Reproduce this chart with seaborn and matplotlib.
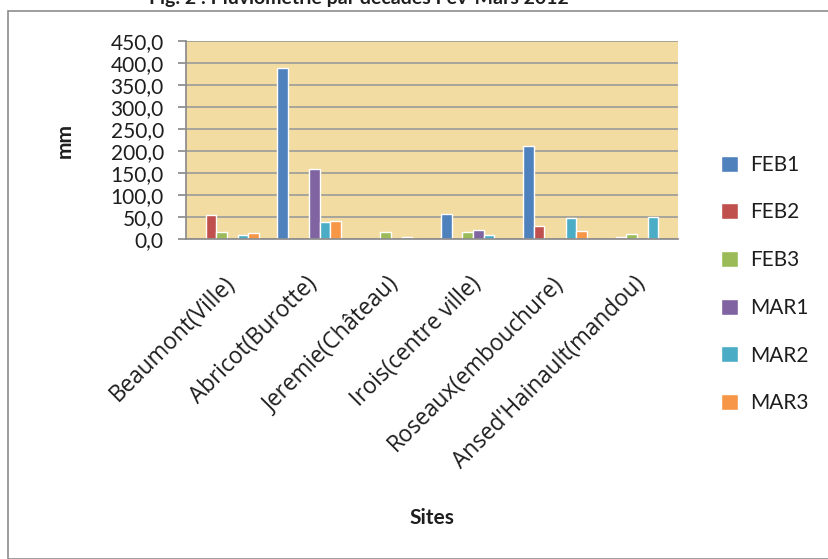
import matplotlib
matplotlib.use("Agg")
import matplotlib.pyplot as plt
import matplotlib.transforms as mtransforms
import seaborn as sns
import pandas as pd
from matplotlib.patches import Rectangle
from matplotlib.ticker import FuncFormatter

sites = ["Beaumont(Ville)", "Abricot(Burotte)", "Jeremie(Château)",
         "Irois(centre ville)", "Roseaux(embouchure)", "Ansed'Hainault(mandou)"]
series = ["FEB1", "FEB2", "FEB3", "MAR1", "MAR2", "MAR3"]
feb1 = [0, 388, 0, 56, 211, 0]
feb2 = [54, 0, 0, 0, 30, 4]
feb3 = [16, 0, 16, 16, 0, 12]
mar1 = [0, 160, 0, 21, 0, 0]
mar2 = [9, 39, 4, 9, 48, 50]
mar3 = [13, 42, 0, 0, 18, 0]
colors = ["#4F81BD", "#C0504D", "#9BBB59", "#8064A2", "#4BACC6", "#F79646"]

rows = []
for s, vals in zip(series, [feb1, feb2, feb3, mar1, mar2, mar3]):
    for site, v in zip(sites, vals):
        rows.append({"Sites": site, "Série": s, "mm": v})
df = pd.DataFrame(rows)

sns.set_theme(style="white")
plt.rcParams["font.family"] = ["Lato", "DejaVu Sans"]

fig = plt.figure(figsize=(8.29, 5.59), dpi=100)
fig.patch.set_facecolor("white")
# outer chart border
fig.patches.append(Rectangle((8 / 829, 0.0), 1 - 8 / 829, 1 - 11 / 559,
                             transform=fig.transFigure, fill=False,
                             edgecolor="#8C8C8C", linewidth=1.2))

ax = fig.add_axes([186 / 829, 1 - 239 / 559, (678 - 186) / 829, (239 - 41) / 559])
sns.barplot(data=df, x="Sites", y="mm", hue="Série", hue_order=series,
            palette=colors, width=0.78, ax=ax, saturation=1, errorbar=None)
ax.set_facecolor("#F3DCA2")
ax.set_ylim(0, 450)
ax.set_yticks(range(0, 451, 50))
ax.yaxis.set_major_formatter(FuncFormatter(lambda v, p: f"{v:.1f}".replace(".", ",")))
ax.grid(axis="y", color="#9A9A9A", linewidth=1.2)
ax.set_axisbelow(True)
for sp in ["top", "right"]:
    ax.spines[sp].set_visible(False)
ax.spines["left"].set_color("#8C8C8C")
ax.spines["bottom"].set_color("#8C8C8C")
ax.tick_params(axis="y", left=True, length=6, color="#8C8C8C", labelsize=15,
               labelcolor="#1E1E1E", pad=10)
ax.tick_params(axis="x", bottom=False, labelsize=16.3, labelcolor="#1E1E1E", pad=4,
               labelfontfamily="Open Sans")
offset = mtransforms.ScaledTranslation(-4 / 100, -19 / 100, fig.dpi_scale_trans)
for lbl in ax.get_xticklabels():
    lbl.set_rotation(45)
    lbl.set_ha("right")
    lbl.set_rotation_mode("anchor")
    lbl.set_transform(lbl.get_transform() + offset)
ax.set_ylabel("mm", fontsize=15, fontweight="bold", color="#1E1E1E", labelpad=26)
ax.set_xlabel("")
fig.text(432 / 829, 1 - 518 / 559, "Sites", fontsize=15, fontweight="bold",
         color="#1E1E1E", ha="center", va="center")

fig.text(359 / 829, 1 - 4 / 559, "Fig. 2 : Pluviométrie par décades Fév-Mars 2012",
         fontsize=14, fontweight="bold", ha="center", va="baseline", color="#1E1E1E")

leg = ax.legend(loc="upper left", bbox_to_anchor=(1.05, 0.52), frameon=False,
                fontsize=15, handlelength=0.8, handleheight=0.8,
                labelspacing=1.33, handletextpad=0.6)
for t in leg.get_texts():
    t.set_color("#1E1E1E")

fig.savefig("out.png", dpi=100)
